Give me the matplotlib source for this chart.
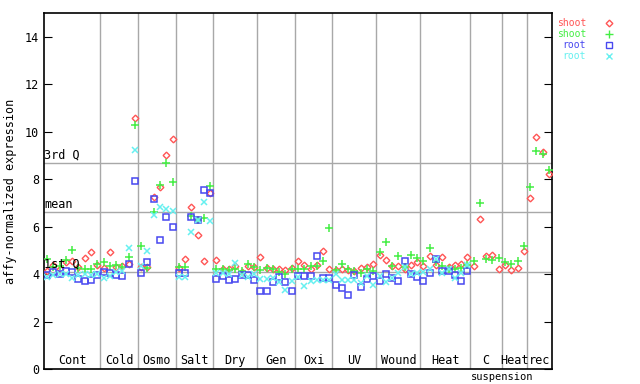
import numpy as np
import matplotlib
matplotlib.use("Agg")
import matplotlib.pyplot as plt

# groups along the x axis (number of samples in each)
groups = ["Cont", "Cold", "Osmo", "Salt", "Dry", "Gen", "Oxi", "UV",
          "Wound", "Heat", "C", "Heat", "rec"]
group_sizes = [9, 6, 6, 6, 7, 6, 6, 7, 7, 8, 5, 4, 4]

# reference lines
q1, mean, q3 = 4.08, 6.61, 8.68

nan = np.nan
shoot_red = [4.15, 4.37, 4.2, 4.5, 4.55, 4.3, 4.68, 4.93, 4.38,
             4.25, 4.92, 4.29, 4.33, 4.42, 10.58,
             4.3, 4.3, 7.23, 7.65, 9.02, 9.69,
             4.25, 4.63, 6.82, 5.64, 4.55, 7.4,
             4.58, 4.2, 4.2, 4.33, 4.1, 4.33, 4.29,
             4.71, 4.25, 4.2, 4.2, 4.16, 4.25,
             4.54, 4.37, 4.2, 4.37, 4.97, 4.2,
             4.16, 4.2, 4.16, 4.12, 4.25, 4.29, 4.42,
             4.8, 4.58, 4.33, 4.33, 4.2, 4.37, 4.5,
             4.33, 4.75, 4.37, 4.71, 4.29, 4.37, 4.42, 4.71,
             4.36, 6.32, 4.77, 4.82, 4.2,
             4.4, 4.16, 4.26, 4.97,
             7.2, 9.78, 9.14, 8.22]
shoot_green = [4.63, 4.3, 4.33, 4.58, 5.02, 4.25, 4.2, 4.22, 4.42,
               4.5, 4.33, 4.37, 4.29, 4.71, 10.3,
               5.17, 4.24, 6.62, 7.75, 8.68, 7.88,
               4.32, 4.29, 6.45, 6.26, 6.36, 7.72,
               4.2, 4.2, 4.16, 4.2, 4.12, 4.42, 4.29,
               4.16, 4.25, 4.2, 4.08, 4.0, 4.2,
               4.2, 4.2, 4.33, 4.33, 4.54, 5.94,
               4.16, 4.42, 4.2, 4.12, 4.04, 4.2, 4.12,
               4.92, 5.35, 4.33, 4.75, 4.29, 4.8, 4.67,
               4.54, 5.09, 4.5, 4.33, 4.2, 4.2, 4.25, 4.4,
               4.54, 6.99, 4.63, 4.58, 4.68,
               4.49, 4.42, 4.54, 5.18,
               7.67, 9.19, 9.06, 8.38]
root_blue = [3.95, 4.08, 4.0, 4.12, 4.08, 3.78, 3.73, 3.77, 3.98,
             4.08, 4.04, 3.95, 3.91, 4.42, 7.92,
             4.04, 4.5, 7.16, 5.43, 6.4, 5.98,
             4.04, 4.06, 6.4, 6.26, 7.54, 7.41,
             3.78, 3.91, 3.74, 3.78, 3.95, 3.95, 3.74,
             3.28, 3.28, 3.66, 3.87, 3.66, 3.28,
             3.91, 3.91, 3.91, 4.75, 3.83, 3.83,
             3.53, 3.4, 3.11, 3.95, 3.45, 3.78, 3.91,
             3.7, 4.0, 3.83, 3.7, 4.54, 4.0, 3.87,
             3.7, 4.04, 4.63, 4.12, 4.12, 3.95, 3.7, 4.12,
             nan, nan, nan, nan, nan,
             nan, nan, nan, nan,
             nan, nan, nan, nan]
root_cyan = [3.87, 3.95, 4.0, 4.0, 3.83, 3.95, 4.0, 3.95, 4.0,
             3.83, 3.91, 4.08, 4.12, 5.09, 9.24,
             4.33, 4.98, 6.48, 6.82, 6.74, 6.65,
             3.87, 3.88, 5.77, 6.3, 7.03, 6.23,
             4.04, 4.04, 4.0, 4.46, 3.95, 3.87, 4.0,
             3.78, 3.78, 3.82, 3.66, 3.32, 3.72,
             3.87, 3.49, 3.7, 3.74, 3.74, 3.74,
             4.0, 3.74, 3.74, 3.74, 3.62, 3.9, 3.53,
             3.91, 3.66, 3.83, 4.04, 4.29, 4.0, 4.04,
             4.08, 4.2, 4.63, 4.04, 4.2, 3.83, 4.04, 4.37,
             nan, nan, nan, nan, nan,
             nan, nan, nan, nan,
             nan, nan, nan, nan]

red, green, blue, cyan = "#ff5555", "#44ee44", "#4848f0", "#66f0f0"
grey = "#a8a8a8"
mono = "DejaVu Sans Mono"

fig = plt.figure(figsize=(6.4, 3.84), dpi=100)
ax = fig.add_axes([0.06875, 0.039, 0.79375, 0.927])

x = np.arange(len(shoot_red))
n = len(x)

# reference lines and group separators
for v in (q1, mean, q3):
    ax.axhline(v, color=grey, lw=1, zorder=1)
edges = np.cumsum(group_sizes)[:-1] - 0.5
for e in edges:
    ax.axvline(e, color=grey, lw=1, zorder=1)

ax.plot(x, shoot_red, ls="none", marker="D", ms=3.4, mfc="none", mec=red, mew=1, zorder=3)
ax.plot(x, shoot_green, ls="none", marker="+", ms=6, mec=green, mew=1.1, zorder=3)
ax.plot(x, root_blue, ls="none", marker="s", ms=4.4, mfc="none", mec=blue, mew=1.1, zorder=3)
ax.plot(x, root_cyan, ls="none", marker="x", ms=4.3, mec=cyan, mew=1.1, zorder=3)

ax.set_xlim(-0.5, n - 0.5)
ax.set_ylim(0, 15)
ax.set_xticks([])
ax.set_yticks(range(0, 16, 2))
ax.tick_params(axis="y", direction="in", length=6, right=True, labelsize=8.5)
for lab in ax.get_yticklabels():
    lab.set_family(mono)
for s in ax.spines.values():
    s.set_color("black")
    s.set_linewidth(1.2)

ax.set_ylabel("affy-normalized expression", family=mono, fontsize=8.5, labelpad=6)

# line labels
for v, t in ((q3, "3rd Q"), (mean, "mean"), (q1, "1st Q")):
    ax.text(-0.45, v + 0.05, t, family=mono, fontsize=8.5, va="bottom", ha="left", zorder=4)

# group labels
starts = np.concatenate([[0], np.cumsum(group_sizes)[:-1]])
for g, s0, k in zip(groups, starts, group_sizes):
    ax.text(s0 + (k - 1) / 2, 0.1, g, family=mono, fontsize=8.5,
            ha="center", va="bottom")
ax.text(72.5, -0.12, "suspension", family=mono, fontsize=7.5,
        ha="center", va="top", clip_on=False)

# legend outside at the right
leg = [("shoot", red, "D", 3.4), ("shoot", green, "+", 6),
       ("root", blue, "s", 4.4), ("root", cyan, "x", 4.3)]
for k, (t, c, m, ms) in enumerate(leg):
    yf = 1 - (23 + 11 * k) / 384
    fig.text(586 / 640, yf, t, color=c, family=mono, fontsize=7,
             ha="right", va="center")
    fig.lines.append(plt.Line2D([609 / 640], [yf], transform=fig.transFigure,
                                ls="none", marker=m, ms=ms, mec=c,
                                mfc="none", mew=1))

fig.savefig("out.png", dpi=100)
